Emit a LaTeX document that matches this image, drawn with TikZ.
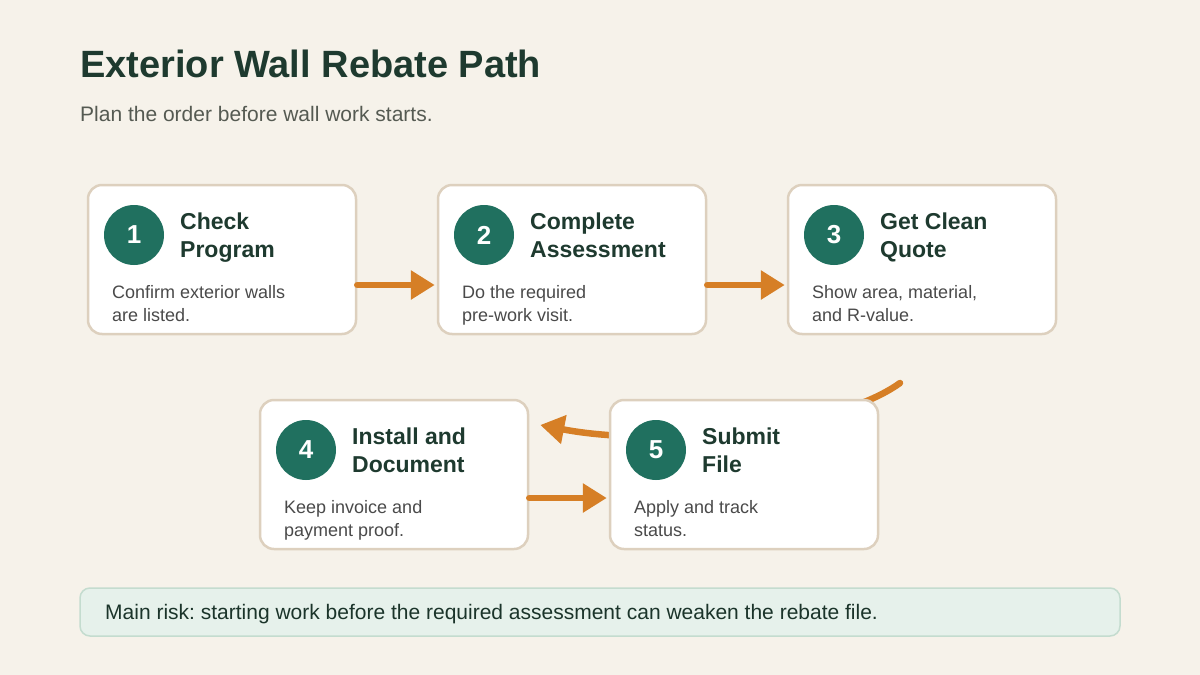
\documentclass[tikz,border=0pt]{standalone}
\usepackage{fontspec}
\setmainfont{Liberation Sans}
\frenchspacing
\usetikzlibrary{arrows.meta}
\definecolor{bgc}{HTML}{F6F2EA}
\definecolor{cardborder}{HTML}{DDD0BE}
\definecolor{teal}{HTML}{20705F}
\definecolor{darkgreen}{HTML}{1E3A2F}
\definecolor{desctext}{HTML}{4A4A4A}
\definecolor{subtext}{HTML}{555A52}
\definecolor{orange}{HTML}{D67F26}
\definecolor{riskfill}{HTML}{E6F1EB}
\definecolor{riskborder}{HTML}{C4DCCF}
\tikzset{
  card/.style={draw=cardborder, fill=white, line width=2.5pt, rounded corners=14pt,
    minimum width=268pt, minimum height=149pt, inner sep=0pt},
  numcircle/.style={circle, fill=teal, minimum size=60pt, inner sep=0pt,
    text=white, font=\bfseries\fontsize{26}{26}\selectfont},
  cardhead/.style={anchor=base west, inner sep=0pt, text=darkgreen,
    font=\bfseries\fontsize{23}{26}\selectfont},
  carddesc/.style={anchor=base west, inner sep=0pt, text=desctext,
    font=\fontsize{18}{20}\selectfont},
  flow/.style={draw=orange, line width=6.5pt, line cap=round,
    -{Triangle[length=24pt,width=28pt]}},
}
\newcommand{\stepcard}[8]{%
  \node[card] (#1) at (#2+134,#3+74.5) {};
  \node[numcircle] (#1n) at (#2+46,#3+50) {#4};
  \node[cardhead] (#1h1) at (#2+92,#3+44) {#5};
  \node[cardhead] (#1h2) at (#2+92,#3+72) {#6};
  \node[carddesc] (#1d1) at (#2+24,#3+113) {#7};
  \node[carddesc] (#1d2) at (#2+24,#3+136) {#8};
}
\begin{document}
\begin{tikzpicture}[x=1pt,y=-1pt]
\fill[bgc] (0,0) rectangle (1200,675);
\useasboundingbox (0,0) rectangle (1200,675);
\node[anchor=base west, inner sep=0pt, text=darkgreen, font=\bfseries\fontsize{38}{42}\selectfont] (title) at (80,77) {Exterior Wall Rebate Path};
\node[anchor=base west, inner sep=0pt, text=subtext, font=\fontsize{21}{24}\selectfont] (subtitle) at (80,121.5) {Plan the order before wall work starts.};

\stepcard{b1}{88}{185}{1}{Check}{Program}{Confirm exterior walls}{are listed.}
\stepcard{b2}{438}{185}{2}{Complete}{Assessment}{Do the required}{pre-work visit.}
\stepcard{b3}{788}{185}{3}{Get Clean}{Quote}{Show area, material,}{and R-value.}
\stepcard{b4}{260}{400}{4}{Install and}{Document}{Keep invoice and}{payment proof.}

% curved connector from step 3 to step 4 (passes behind step 5)
\coordinate (c3out) at (900,383);
\draw[flow] (c3out) .. controls (835,430) and (660,448) .. ([xshift=11pt,yshift=49.5pt]b4.east);

\stepcard{b5}{610}{400}{5}{Submit}{File}{Apply and track}{status.}

\draw[flow] ([yshift=-25.5pt]b1.east) -- ([xshift=-2pt,yshift=-25.5pt]b2.west);
\draw[flow] ([yshift=-25.5pt]b2.east) -- ([xshift=-2pt,yshift=-25.5pt]b3.west);
\draw[flow] ([yshift=-23.5pt]b4.east) -- ([xshift=-2pt,yshift=-23.5pt]b5.west);

\node[draw=riskborder, fill=riskfill, line width=1.5pt, rounded corners=10pt,
  minimum width=1040pt, minimum height=48pt, inner sep=0pt] (risk) at (600,612) {};
\node[anchor=base west, inner sep=0pt, text=darkgreen!90!black, font=\fontsize{21}{24}\selectfont] (risktext) at (105,619.5) {Main risk: starting work before the required assessment can weaken the rebate file.};
\end{tikzpicture}
\end{document}
